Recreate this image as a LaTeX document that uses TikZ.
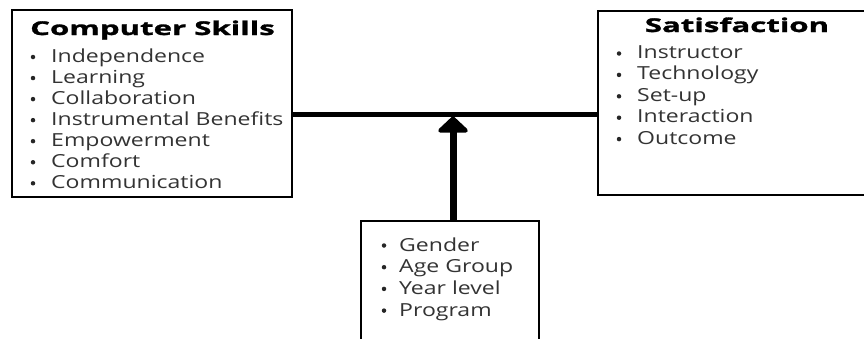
\documentclass[tikz,border=0pt]{standalone}
\usepackage{fontspec}
\setmainfont{Open Sans}[FakeStretch=1.28]
\newfontfamily\titlefont{Open Sans}[FakeStretch=1.64, FakeBold=1.5]
\usetikzlibrary{arrows.meta}
\definecolor{itemgray}{HTML}{333333}
\tikzset{
  box/.style={draw=black, line width=2.5pt, fill=white, inner sep=0pt},
  title/.style={font=\titlefont\fontsize{19}{19}\selectfont\bfseries, text=black, anchor=base, inner sep=0pt},
  item/.style={font=\fontsize{18}{18}\selectfont, text=itemgray, anchor=base west, inner sep=0pt},
  dot/.style={circle, fill=black!85, inner sep=0pt, minimum size=4.5pt},
  link/.style={line width=5pt},
  arr/.style={line width=7pt, -{Triangle[width=35pt,length=17pt,round]}}
}
\begin{document}
\begin{tikzpicture}[x=1pt,y=-1pt]
\useasboundingbox (0,0) rectangle (864,338);
\clip (0,0) rectangle (864,338);
\fill[white] (0,0) rectangle (864,338);
% boxes
\node[box, minimum width=280pt, minimum height=187pt] (cs) at (152,103.5) {};
\node[box, minimum width=282pt, minimum height=184pt] (sat) at (739,103) {};
\node[box, minimum width=178pt, minimum height=124pt] (dem) at (450,283) {};
% titles
\node[title] (cst) at (152.5,35) {Computer Skills};
\node[title] (satt) at (737,32) {Satisfaction};
% items
\foreach \t [count=\i] in {Independence,Learning,Collaboration,Instrumental Benefits,Empowerment,Comfort,Communication}{
  \node[dot] (csd\i) at (33,{57+21.05*(\i-1)}) {};
  \node[item] (csi\i) at (51,{62+21.05*(\i-1)}) {\t};
}
\foreach \t [count=\i] in {Instructor,Technology,Set-up,Interaction,Outcome}{
  \node[dot] (sd\i) at (619,{53.5+21.4*(\i-1)}) {};
  \node[item] (si\i) at (637,{58.5+21.4*(\i-1)}) {\t};
}
\foreach \t [count=\i] in {Gender,Age Group,Year level,Program}{
  \node[dot] (dd\i) at (384,{245.5+21.7*(\i-1)}) {};
  \node[item] (di\i) at (399,{251+21.7*(\i-1)}) {\t};
}
% connectors
\coordinate (j) at (453,114);
\draw[link] (cs.east |- j) -- (sat.west |- j);
\draw[arr] (j |- dem.north) -- ([yshift=-2.5pt]j);
\end{tikzpicture}
\end{document}
